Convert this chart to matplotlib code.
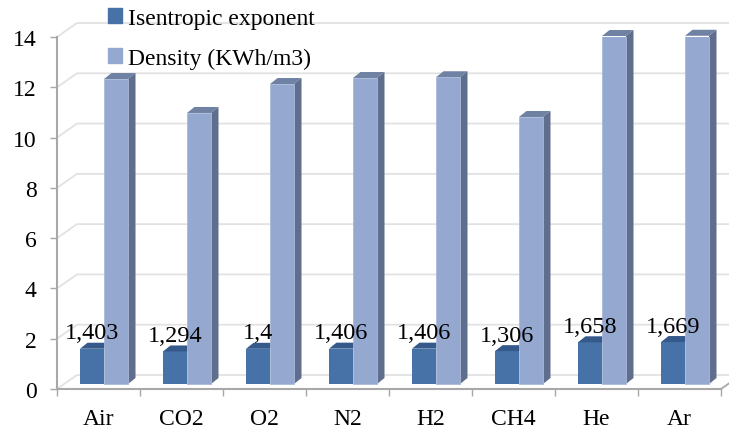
import matplotlib
matplotlib.use('Agg')
import matplotlib.pyplot as plt
from matplotlib.patches import Polygon, Patch

plt.rcParams['font.family'] = ['Liberation Serif', 'DejaVu Serif']

gases = ['Air', 'CO2', 'O2', 'N2', 'H2', 'CH4', 'He', 'Ar']
isentropic = [1.403, 1.294, 1.4, 1.406, 1.406, 1.306, 1.658, 1.669]
density = [12.13, 10.78, 11.93, 12.17, 12.2, 10.62, 13.84, 13.85]
yticks = [0, 2, 4, 6, 8, 10, 12, 14]

W, H = 729, 431
fig = plt.figure(figsize=(W / 100, H / 100), dpi=100)
ax = fig.add_axes([57 / W, 1 - 390 / H, (721 - 57) / W, (390 - 38) / H])
ax.set_xlim(0, 8)
ax.set_ylim(0, 14)

# pixel sizes turned into data units
px_x = 8 / (721 - 57)
px_y = 14 / (390 - 38)
wall_dx, wall_dy = 20 * px_x, 14 * px_y
bar_dx, bar_dy = 7.5 * px_x, 6 * px_y
base = 5 * px_y
bar_w = 24 * px_x
dark_off = 23 * px_x

GRID = '#e2e2e2'
AXIS = '#a8a8a8'

# back wall grid
for t in yticks:
    ax.plot([0, wall_dx, 8 + wall_dx], [t, t + wall_dy, t + wall_dy], color=GRID, lw=1.3,
            clip_on=False, zorder=1)
ax.plot([8, 8 + wall_dx], [0, wall_dy], color=AXIS, lw=1.3, clip_on=False, zorder=1)

x_dark = [i + dark_off for i in range(len(gases))]
x_light = [x + bar_w for x in x_dark]

ax.bar(x_dark, isentropic, bar_w, bottom=base, align='edge', color='#4672a8', zorder=3)
ax.bar(x_light, density, bar_w, bottom=base, align='edge', color='#95a9d0',
       edgecolor='#a9b9d8', lw=0.6, zorder=5)

for x, v in zip(x_dark, isentropic):
    top = base + v
    ax.add_patch(Polygon([(x, top), (x + bar_w, top), (x + bar_w + bar_dx, top + bar_dy),
                          (x + bar_dx, top + bar_dy)], color='#34598a', lw=0, zorder=3))

for x, v in zip(x_light, density):
    top = base + v
    ax.add_patch(Polygon([(x, top), (x + bar_w, top), (x + bar_w + bar_dx, top + bar_dy),
                          (x + bar_dx, top + bar_dy)], color='#6f82a4', lw=0, zorder=4, clip_on=False))
    ax.add_patch(Polygon([(x + bar_w, base), (x + bar_w + bar_dx, base + bar_dy),
                          (x + bar_w + bar_dx, top + bar_dy), (x + bar_w, top)],
                         color='#5f6e8c', lw=0, zorder=4, clip_on=False))

# data labels
for x, v in zip(x_dark, isentropic):
    ax.annotate(str(v).replace('.', ','), (x + bar_w / 2, base + v), xytext=(0, 11.5),
                textcoords='offset points', ha='center', va='center', fontsize=17.5,
                color='black', zorder=6)

for s in ['top', 'right']:
    ax.spines[s].set_visible(False)
for s in ['left', 'bottom']:
    ax.spines[s].set_color(AXIS)
    ax.spines[s].set_linewidth(1.5)

ax.set_yticks(yticks)
ax.set_xticks(range(9))
ax.set_xticklabels([])
ax.set_xticks([i + 0.5 for i in range(8)], minor=True)
ax.set_xticklabels(gases, minor=True, fontsize=17)
ax.tick_params(axis='x', which='minor', length=0, pad=13.5)
ax.tick_params(axis='x', which='major', length=5, color=AXIS, width=1)
ax.tick_params(axis='y', length=5, color=AXIS, width=1, labelsize=17, pad=9.5)

handles = [Patch(color='#4672a8'), Patch(color='#95a9d0')]
leg = ax.legend(handles, ['Isentropic exponent', 'Density (KWh/m3)'], loc='upper left',
                bbox_to_anchor=(108 / W, 1 - 8.5 / H), bbox_transform=fig.transFigure,
                frameon=False, fontsize=17, handlelength=0.6, handleheight=0.6,
                handletextpad=0.25, labelspacing=0.82, borderpad=0, borderaxespad=0)
leg.set_zorder(7)

fig.savefig('out.png', dpi=100)
